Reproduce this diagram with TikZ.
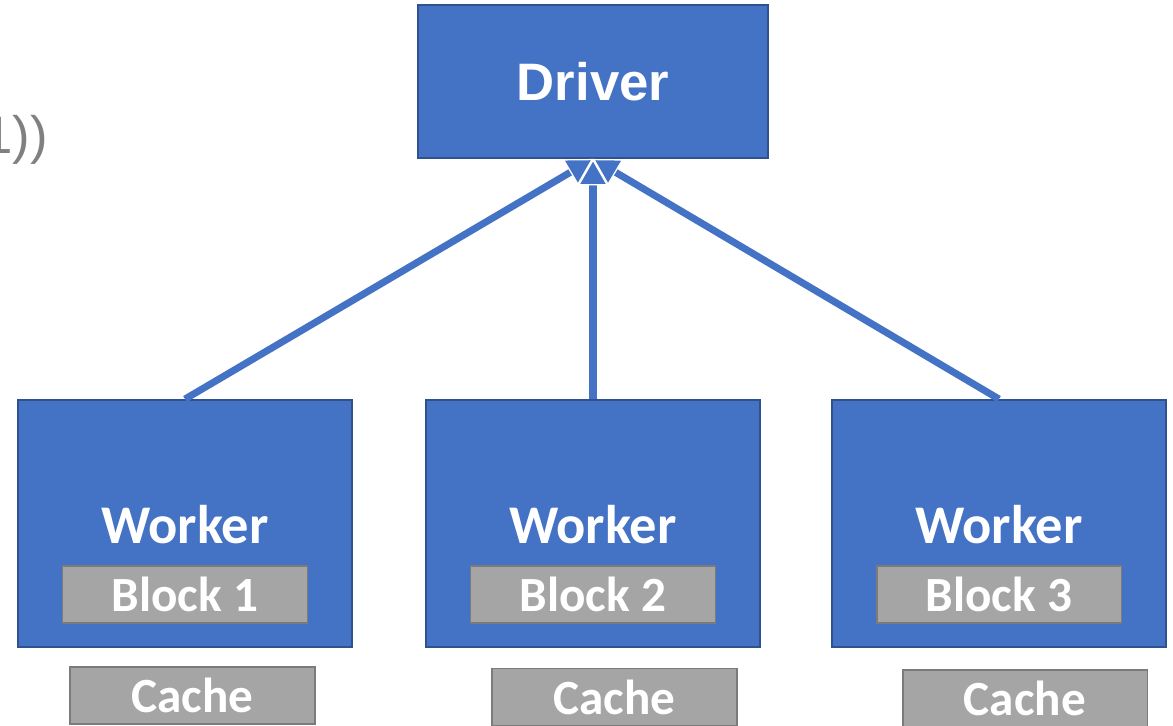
\documentclass[tikz,border=0pt]{standalone}
\usepackage{fontspec}
\setmainfont{Carlito}
\newfontfamily\arialfont{Liberation Sans}
\usetikzlibrary{arrows.meta}
\definecolor{boxblue}{HTML}{4472C4}
\definecolor{edgeblue}{HTML}{2F528F}
\definecolor{blockgray}{HTML}{A5A5A5}
\definecolor{edgegray}{HTML}{7B7B7B}
\definecolor{textgray}{HTML}{808080}
\tikzstyle{driverbox}=[rectangle,fill=boxblue,draw=edgeblue,line width=1.1pt,minimum width=7cm,minimum height=3.06cm,inner sep=0pt,text=white,font=\arialfont\bfseries\fontsize{30}{32}\selectfont]
\tikzstyle{workerbox}=[rectangle,fill=boxblue,draw=edgeblue,line width=1.1pt,minimum width=6.68cm,minimum height=4.94cm,inner sep=0pt]
\tikzstyle{blockbox}=[rectangle,fill=blockgray,draw=edgegray,line width=1.1pt,minimum width=4.9cm,minimum height=1.14cm,inner sep=0pt,text=white,font=\bfseries\fontsize{28}{30}\selectfont]
\tikzstyle{workerlabel}=[anchor=base,inner sep=0pt,text=white,font=\bfseries\fontsize{31}{32}\selectfont]
\tikzstyle{reply}=[draw=boxblue,line width=4pt,-{Triangle[width=17pt,length=15pt,line width=0.7pt,color=white,fill=boxblue]}]

\begin{document}
\begin{tikzpicture}[x=0.02cm,y=-0.02cm]
  \useasboundingbox (0,0) rectangle (1173,725);
  % leftover text running in from the left
  \node[anchor=base east,inner sep=0pt,text=textgray,font=\arialfont\fontsize{30}{32}\selectfont] (tail) at (48,153) {1))};
  \node[driverbox] (drv) at (593,81.5) {Driver};
  \foreach \n/\x/\cx/\cy in {1/185/192.5/695.5, 2/593/614.5/697, 3/999/1025/698.5}{
    \node[workerbox] (w\n) at (\x,523.5) {};
    \node[workerlabel] (wl\n) at (\x,543) {Worker};
    \node[blockbox] (b\n) at (\x,594.5) {Block \n};
    \node[blockbox] (c\n) at (\cx,\cy) {Cache};
  }
  \foreach \n in {1,2,3}
    \draw[reply] (w\n.north) -- (drv.south);
\end{tikzpicture}
\end{document}
